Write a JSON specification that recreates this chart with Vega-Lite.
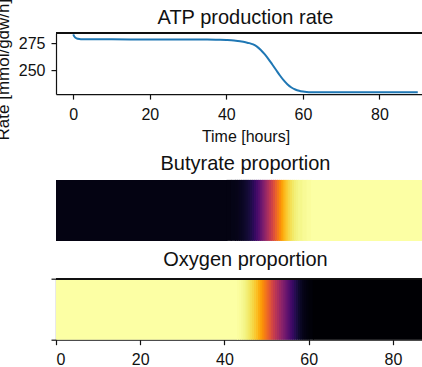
{
  "$schema": "https://vega.github.io/schema/vega-lite/v6.json",
  "autosize": {"type": "pad"},
  "padding": {"left": -6, "top": -1.9, "right": -10, "bottom": 0},
  "background": "white",
  "config": {
    "font": "Liberation Sans",
    "view": {"stroke": null},
    "axis": {"labelFont": "Liberation Sans", "labelFontSize": 16, "labelColor": "#111", "titleFont": "Liberation Sans", "titleFontSize": 16, "titleFontWeight": "normal", "titleColor": "#111", "tickColor": "#111", "tickSize": 5, "tickWidth": 1.2, "grid": false, "labelPadding": 7, "domain": true, "domainColor": "#111", "domainWidth": 1.2, "zindex": 1},
    "title": {"font": "Liberation Sans", "fontSize": 20, "fontWeight": "normal", "color": "#111", "baseline": "alphabetic"}
  },
  "datasets": {
    "atp": [
      {"t": 0, "r": 283}, {"t": 0.3, "r": 281}, {"t": 0.7, "r": 279.6}, {"t": 1.2, "r": 278.9}, {"t": 2, "r": 278.5},
      {"t": 5, "r": 278.4}, {"t": 10, "r": 278.4}, {"t": 20, "r": 278.3}, {"t": 30, "r": 278.3}, {"t": 35, "r": 278.2},
      {"t": 38, "r": 278}, {"t": 40, "r": 277.8}, {"t": 42, "r": 277.4}, {"t": 43, "r": 277}, {"t": 44, "r": 276.5},
      {"t": 45, "r": 275.8}, {"t": 46, "r": 275}, {"t": 47, "r": 273.8}, {"t": 48, "r": 271.8}, {"t": 49, "r": 268.8},
      {"t": 50, "r": 265}, {"t": 51, "r": 260.5}, {"t": 52, "r": 255.5}, {"t": 53, "r": 250.5}, {"t": 54, "r": 245.5},
      {"t": 55, "r": 241}, {"t": 56, "r": 237.3}, {"t": 57, "r": 234.6}, {"t": 58, "r": 232.8}, {"t": 59, "r": 231.6},
      {"t": 60, "r": 230.9}, {"t": 61, "r": 230.5}, {"t": 62, "r": 230.3}, {"t": 65, "r": 230.2}, {"t": 70, "r": 230.2},
      {"t": 80, "r": 230.2}, {"t": 90, "r": 230.2}
    ],
    "but": [
      {"t": 0, "t2": 40.5, "v": 0.03}, {"t": 40.5, "t2": 41.5, "v": 0.032}, {"t": 41.5, "t2": 42.5, "v": 0.038},
      {"t": 42.5, "t2": 43, "v": 0.042}, {"t": 43, "t2": 43.5, "v": 0.048}, {"t": 43.5, "t2": 44, "v": 0.055},
      {"t": 44, "t2": 44.5, "v": 0.063}, {"t": 44.5, "t2": 45, "v": 0.073}, {"t": 45, "t2": 45.5, "v": 0.085},
      {"t": 45.5, "t2": 46, "v": 0.1}, {"t": 46, "t2": 46.5, "v": 0.12}, {"t": 46.5, "t2": 47, "v": 0.145},
      {"t": 47, "t2": 47.5, "v": 0.175}, {"t": 47.5, "t2": 48, "v": 0.21}, {"t": 48, "t2": 48.5, "v": 0.25},
      {"t": 48.5, "t2": 49, "v": 0.3}, {"t": 49, "t2": 49.5, "v": 0.35}, {"t": 49.5, "t2": 50, "v": 0.4},
      {"t": 50, "t2": 50.5, "v": 0.45}, {"t": 50.5, "t2": 51, "v": 0.5}, {"t": 51, "t2": 51.5, "v": 0.55},
      {"t": 51.5, "t2": 52, "v": 0.6}, {"t": 52, "t2": 52.5, "v": 0.65}, {"t": 52.5, "t2": 53, "v": 0.7},
      {"t": 53, "t2": 53.5, "v": 0.75}, {"t": 53.5, "t2": 54, "v": 0.8}, {"t": 54, "t2": 54.5, "v": 0.84},
      {"t": 54.5, "t2": 55, "v": 0.87}, {"t": 55, "t2": 55.5, "v": 0.9}, {"t": 55.5, "t2": 56, "v": 0.92},
      {"t": 56, "t2": 56.5, "v": 0.94}, {"t": 56.5, "t2": 57, "v": 0.955}, {"t": 57, "t2": 57.5, "v": 0.965},
      {"t": 57.5, "t2": 58.5, "v": 0.975}, {"t": 58.5, "t2": 59.5, "v": 0.985}, {"t": 59.5, "t2": 60.5, "v": 0.993},
      {"t": 60.5, "t2": 90, "v": 1.0}
    ],
    "oxy": [
      {"t": 0, "t2": 43, "v": 1.0}, {"t": 43, "t2": 43.5, "v": 0.995}, {"t": 43.5, "t2": 44, "v": 0.99},
      {"t": 44, "t2": 44.5, "v": 0.98}, {"t": 44.5, "t2": 45, "v": 0.97}, {"t": 45, "t2": 45.5, "v": 0.955},
      {"t": 45.5, "t2": 46, "v": 0.94}, {"t": 46, "t2": 46.5, "v": 0.92}, {"t": 46.5, "t2": 47, "v": 0.9},
      {"t": 47, "t2": 47.5, "v": 0.875}, {"t": 47.5, "t2": 48, "v": 0.85}, {"t": 48, "t2": 48.5, "v": 0.815},
      {"t": 48.5, "t2": 49, "v": 0.78}, {"t": 49, "t2": 49.5, "v": 0.74}, {"t": 49.5, "t2": 50, "v": 0.7},
      {"t": 50, "t2": 50.5, "v": 0.66}, {"t": 50.5, "t2": 51, "v": 0.62}, {"t": 51, "t2": 51.5, "v": 0.575},
      {"t": 51.5, "t2": 52, "v": 0.53}, {"t": 52, "t2": 52.5, "v": 0.49}, {"t": 52.5, "t2": 53, "v": 0.45},
      {"t": 53, "t2": 53.5, "v": 0.41}, {"t": 53.5, "t2": 54, "v": 0.37}, {"t": 54, "t2": 54.5, "v": 0.33},
      {"t": 54.5, "t2": 55, "v": 0.29}, {"t": 55, "t2": 55.5, "v": 0.25}, {"t": 55.5, "t2": 56, "v": 0.21},
      {"t": 56, "t2": 56.5, "v": 0.175}, {"t": 56.5, "t2": 57, "v": 0.14}, {"t": 57, "t2": 57.5, "v": 0.11},
      {"t": 57.5, "t2": 58, "v": 0.08}, {"t": 58, "t2": 58.5, "v": 0.06}, {"t": 58.5, "t2": 59, "v": 0.04},
      {"t": 59, "t2": 59.5, "v": 0.03}, {"t": 59.5, "t2": 60, "v": 0.02}, {"t": 60, "t2": 61, "v": 0.01},
      {"t": 61, "t2": 90, "v": 0.0}
    ]
  },
  "spacing": 8.8,
  "resolve": {"scale": {"x": "independent", "y": "independent"}},
  "vconcat": [
    {
      "width": 379, "height": 61,
      "title": {"text": "ATP production rate", "offset": -30.2},
      "data": {"name": "atp"},
      "encoding": {
        "x": {"field": "t", "type": "quantitative", "scale": {"domain": [-4.5, 94.5], "nice": false, "zero": false}, "axis": {"values": [0, 20, 40, 60, 80], "title": "Time [hours]", "titlePadding": 6}},
        "y": {"field": "r", "type": "quantitative", "scale": {"domain": [228.6, 284.1], "nice": false, "zero": false}, "axis": {"values": [250, 275], "title": "Rate [mmol/gdw/h]", "titleFontSize": 17, "titleX": -47.5, "titleY": 36, "titleAngle": -90, "titleAlign": "center", "titleBaseline": "alphabetic", "labelPadding": 6}}
      },
      "layer": [
        {"mark": {"type": "line", "color": "#1f77b4", "strokeWidth": 2, "interpolate": "monotone", "clip": true}},
        {"mark": {"type": "rule", "color": "#111", "strokeWidth": 1.2}, "encoding": {"x": null, "y": {"datum": 284.1}}}
      ]
    },
    {
      "width": 379, "height": 61,
      "title": {"text": "Butyrate proportion", "offset": 6.3},
      "data": {"name": "but"},
      "mark": {"type": "rect", "x2Offset": 1},
      "encoding": {
        "x": {"field": "t", "type": "quantitative", "scale": {"domain": [0, 90], "nice": false, "zero": false}, "axis": null},
        "x2": {"field": "t2"},
        "color": {"field": "v", "type": "quantitative", "scale": {"scheme": "inferno", "domain": [0, 1]}, "legend": null}
      }
    },
    {
      "width": 379, "height": 61,
      "title": {"text": "Oxygen proportion", "offset": 7.7},
      "data": {"name": "oxy"},
      "layer": [
        {
          "mark": {"type": "rect", "x2Offset": 1},
          "encoding": {
            "x": {"field": "t", "type": "quantitative", "scale": {"domain": [0, 90], "nice": false, "zero": false}, "axis": {"values": [0, 20, 40, 60, 80], "title": null}},
            "x2": {"field": "t2"},
            "y": {"datum": 0, "type": "quantitative", "scale": {"domain": [0, 1], "nice": false}, "axis": {"values": [0, 1], "labels": false, "title": null}},
            "y2": {"datum": 1},
            "color": {"field": "v", "type": "quantitative", "scale": {"scheme": "inferno", "domain": [0, 1]}, "legend": null}
          }
        },
        {"mark": {"type": "rule", "color": "#111", "strokeWidth": 1.2}, "encoding": {"y": {"datum": 1, "type": "quantitative"}}}
      ]
    }
  ]
}
